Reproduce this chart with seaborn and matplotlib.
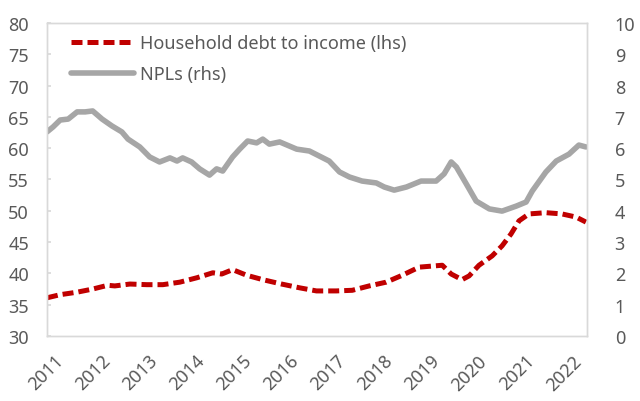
import matplotlib
matplotlib.use("Agg")
import matplotlib.pyplot as plt
import matplotlib.transforms as mtransforms
import seaborn as sns
import pandas as pd

# Household debt to income ratio (lhs, %)
debt_years = [2011.00, 2011.28, 2011.64, 2011.97, 2012.29, 2012.44, 2012.76, 2013.12,
              2013.46, 2013.82, 2014.18, 2014.52, 2014.71, 2014.94, 2015.24, 2015.58,
              2015.98, 2016.36, 2016.72, 2017.14, 2017.48, 2017.84, 2018.20, 2018.54,
              2018.90, 2019.39, 2019.58, 2019.81, 2019.96, 2020.17, 2020.45, 2020.66,
              2020.85, 2021.02, 2021.23, 2021.59, 2021.93, 2022.23, 2022.44]
debt_values = [36.1, 36.6, 37.0, 37.5, 38.1, 38.0, 38.3, 38.2,
               38.2, 38.6, 39.3, 40.1, 39.9, 40.6, 39.7, 39.0,
               38.3, 37.7, 37.2, 37.2, 37.3, 38.0, 38.6, 39.7,
               41.0, 41.3, 39.9, 39.0, 39.6, 41.3, 42.8, 44.4,
               46.3, 48.4, 49.5, 49.7, 49.5, 49.0, 48.2]

# Non-performing loans ratio (rhs, %)
npl_years = [2011.00, 2011.13, 2011.28, 2011.45, 2011.64, 2011.81, 2011.97, 2012.17,
             2012.38, 2012.59, 2012.72, 2012.97, 2013.18, 2013.39, 2013.61, 2013.76,
             2013.88, 2014.07, 2014.24, 2014.45, 2014.60, 2014.73, 2014.94, 2015.09,
             2015.26, 2015.45, 2015.58, 2015.72, 2015.94, 2016.30, 2016.57, 2016.78,
             2016.99, 2017.21, 2017.42, 2017.69, 2017.99, 2018.16, 2018.37, 2018.63,
             2018.94, 2019.26, 2019.43, 2019.58, 2019.69, 2019.90, 2020.11, 2020.39,
             2020.66, 2020.96, 2021.17, 2021.30, 2021.59, 2021.81, 2022.08, 2022.29,
             2022.44]
npl_values = [6.52, 6.68, 6.90, 6.93, 7.16, 7.16, 7.19, 6.93,
              6.71, 6.52, 6.29, 6.04, 5.72, 5.56, 5.69, 5.59,
              5.69, 5.56, 5.34, 5.14, 5.34, 5.27, 5.72, 5.97,
              6.23, 6.17, 6.29, 6.13, 6.20, 5.97, 5.91, 5.75,
              5.59, 5.24, 5.08, 4.95, 4.89, 4.76, 4.66, 4.76,
              4.95, 4.95, 5.18, 5.56, 5.40, 4.86, 4.31, 4.06,
              3.99, 4.15, 4.28, 4.63, 5.24, 5.59, 5.81, 6.10,
              6.04]

year_ticks = list(range(2011, 2023))
left_ticks = list(range(30, 81, 5))
right_ticks = list(range(0, 11))

debt_label = "Household debt to income (lhs)"
npl_label = "NPLs (rhs)"

debt_df = pd.DataFrame({"year": debt_years, "value": debt_values})
npl_df = pd.DataFrame({"year": npl_years, "value": npl_values})

sns.set_theme(style="white")
plt.rcParams["font.family"] = ["Noto Sans", "DejaVu Sans"]

text_color = "#595959"
frame_color = "#d9d9d9"

fig = plt.figure(figsize=(6.4, 4.02), dpi=100)
ax = fig.add_axes([0.0734, 0.1617, 0.8436, 0.7786])
ax2 = ax.twinx()

sns.lineplot(data=debt_df, x="year", y="value", ax=ax, color="#c00000",
             linewidth=3.6, label=debt_label, legend=False)
ax.lines[0].set_dashes((2.2, 1.0))

sns.lineplot(data=npl_df, x="year", y="value", ax=ax2, color="#a6a6a6",
             linewidth=4.0, label=npl_label, legend=False)

ax.set_xlim(2011, 2022.46)
ax.set_ylim(30, 80)
ax2.set_ylim(0, 10)
ax.set_xticks(year_ticks)
ax.set_xticklabels([str(y) for y in year_ticks], rotation=45, ha="right",
                   rotation_mode="anchor")
ax.set_yticks(left_ticks)
ax2.set_yticks(right_ticks)
ax.set_xlabel("")
ax.set_ylabel("")
ax2.set_ylabel("")

ax.tick_params(axis="x", direction="in", length=6, color=frame_color,
               labelsize=13, labelcolor=text_color, pad=11)
ax.tick_params(axis="y", direction="in", length=3, color=frame_color,
               labelsize=13, labelcolor=text_color, pad=13)
ax2.tick_params(axis="y", length=0, labelsize=13, labelcolor=text_color, pad=20)

# nudge the slanted year labels so each one ends just right of its tick
shift = mtransforms.ScaledTranslation(7 / 100, 0, fig.dpi_scale_trans)
for lbl in ax.get_xticklabels():
    lbl.set_transform(lbl.get_transform() + shift)

for a in (ax, ax2):
    for s in a.spines.values():
        s.set_color(frame_color)
        s.set_linewidth(1.0)
        s.set_visible(True)

handles = ax.get_lines()[:1] + ax2.get_lines()[:1]
ax.legend(handles, [debt_label, npl_label], loc="upper left",
          bbox_to_anchor=(0.045, 0.965), frameon=False, fontsize=13,
          handlelength=3.5, handletextpad=0.3, labelspacing=0.75,
          borderpad=0, borderaxespad=0, labelcolor=text_color)

fig.savefig("out.png", dpi=100)
